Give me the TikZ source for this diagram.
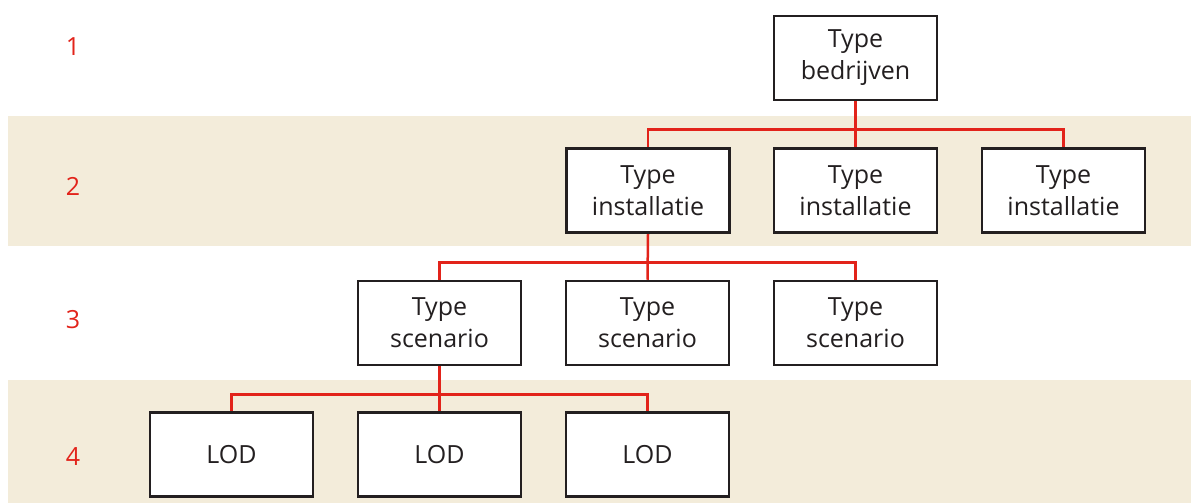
\documentclass[tikz,border=0pt]{standalone}
\usepackage{fontspec}
\setmainfont{Open Sans}
\definecolor{band}{HTML}{F3ECDA}
\definecolor{redl}{HTML}{E2231A}
\definecolor{ink}{HTML}{231F20}
\pgfdeclarelayer{bg}
\pgfdeclarelayer{links}
\pgfsetlayers{bg,links,main}
\tikzset{
  box/.style={draw=ink, line width=2.5pt, fill=white, minimum width=163pt, minimum height=84pt, align=center, font=\fontsize{25}{32}\selectfont, text=ink, inner sep=0pt},
  lvl/.style={text=redl, font=\fontsize{25}{30}\selectfont},
  link/.style={draw=redl, line width=2.5pt}
}
\begin{document}
\begin{tikzpicture}[x=1pt,y=-1pt]
\useasboundingbox (0,0) rectangle (1191,503);
\begin{pgfonlayer}{bg}
\fill[band] (8,116) rectangle (1191,246);
\fill[band] (8,380) rectangle (1191,503);
\end{pgfonlayer}
\node[lvl] (n1) at (73,47) {1};
\node[lvl] (n2) at (73,186) {2};
\node[lvl] (n3) at (73,320) {3};
\node[lvl] (n4) at (73,457) {4};
% row 1
\node[box] (b) at (855.5,58) {Type\\bedrijven};
% row 2
\node[box] (i1) at (648,190.5) {Type\\installatie};
\node[box] (i2) at (855.5,190.5) {Type\\installatie};
\node[box] (i3) at (1063.5,190.5) {Type\\installatie};
% row 3
\node[box] (s1) at (439.5,323) {Type\\scenario};
\node[box] (s2) at (647.5,323) {Type\\scenario};
\node[box] (s3) at (855.5,323) {Type\\scenario};
% row 4
\node[box] (l1) at (231.5,454.5) {LOD};
\node[box] (l2) at (439.5,454.5) {LOD};
\node[box] (l3) at (647.5,454.5) {LOD};
% connectors
\begin{pgfonlayer}{links}
\draw[link] (b.south) -- (i2.north);
\draw[link] (i1.north) |- (855.5,129.5) -| (i3.north);
\draw[link] (i1.south) -- (s2.north);
\draw[link] (s1.north) |- (647.5,262.5) -| (s3.north);
\draw[link] (s1.south) -- (l2.north);
\draw[link] (l1.north) |- (439.5,394.5) -| (l3.north);
\end{pgfonlayer}
\end{tikzpicture}
\end{document}
